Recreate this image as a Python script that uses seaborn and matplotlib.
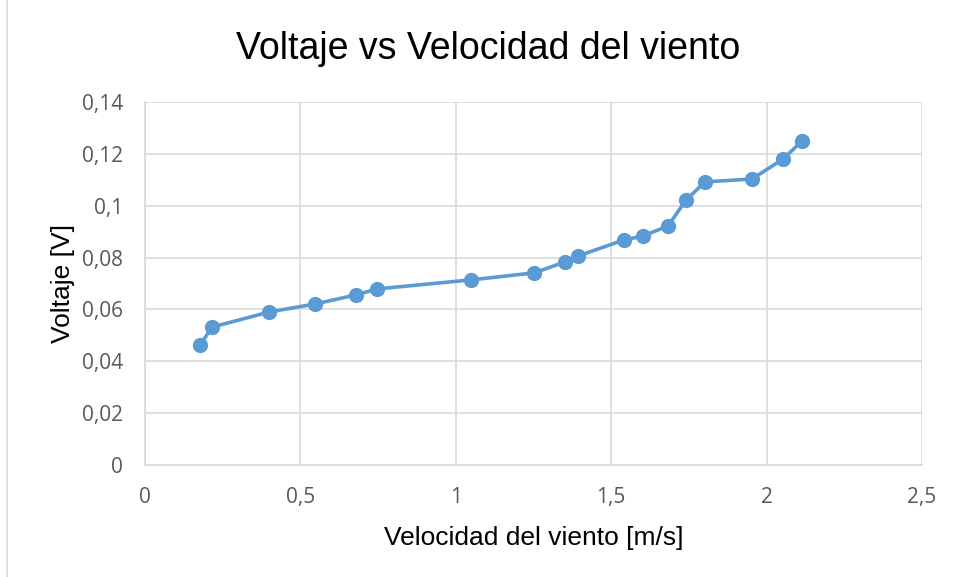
import numpy as np
import pandas as pd
import matplotlib
matplotlib.use("Agg")
import matplotlib.pyplot as plt
import seaborn as sns
from matplotlib.ticker import FuncFormatter, MultipleLocator

sns.set_style("white")

velocidad = [0.177, 0.216, 0.399, 0.547, 0.679, 0.746, 1.049, 1.252, 1.351, 1.393,
             1.541, 1.602, 1.683, 1.741, 1.802, 1.953, 2.053, 2.114]
voltaje = [0.0463, 0.0532, 0.0590, 0.0621, 0.0656, 0.0679, 0.0714, 0.0741, 0.0783, 0.0806,
           0.0868, 0.0883, 0.0922, 0.1022, 0.1092, 0.1103, 0.1180, 0.1250]

df = pd.DataFrame({"vel": velocidad, "volt": voltaje})

blue = "#5b9bd5"
grid_c = "#d9d9d9"
tick_c = "#595959"

fig = plt.figure(figsize=(9.56, 5.77), dpi=100)
ax = fig.add_axes([0.1517, 0.1941, 0.8127, 0.6291])

sns.lineplot(data=df, x="vel", y="volt", ax=ax, color=blue, linewidth=2.6,
             marker="o", markersize=11, markeredgewidth=0, sort=False)

ax.set_xlim(0, 2.5)
ax.set_ylim(0, 0.14)
ax.xaxis.set_major_locator(MultipleLocator(0.5))
ax.yaxis.set_major_locator(MultipleLocator(0.02))

def coma(v, pos):
    s = f"{v:.2f}".rstrip("0").rstrip(".")
    return s.replace(".", ",")

ax.xaxis.set_major_formatter(FuncFormatter(coma))
ax.yaxis.set_major_formatter(FuncFormatter(coma))

ax.grid(True, color=grid_c, linewidth=1.2)
for side in ["top", "right"]:
    ax.spines[side].set_visible(False)
ax.spines["left"].set_color(grid_c)
ax.spines["bottom"].set_color(grid_c)
ax.spines["left"].set_linewidth(1.2)
ax.spines["bottom"].set_linewidth(1.2)
ax.tick_params(length=0, pad=16, labelsize=15, labelcolor=tick_c)
for lab in ax.get_xticklabels() + ax.get_yticklabels():
    lab.set_family(["Open Sans", "DejaVu Sans"])

ax.set_xlabel("Velocidad del viento [m/s]", fontsize=19, family="Liberation Sans",
              labelpad=13, color="black")
ax.set_ylabel("Voltaje [V]", fontsize=19, family="Liberation Sans", labelpad=5, color="black")
fig.text(0.511, 1 - 59 / 577, "Voltaje vs Velocidad del viento", ha="center", va="baseline",
         fontsize=27, family="Liberation Sans", color="black")

# chart border (partially visible in reference)
fig.add_artist(plt.Line2D([0.0073, 0.0073], [0.0, 1.0], color=grid_c, linewidth=1.2,
                          transform=fig.transFigure))

fig.savefig("out.png", dpi=100)
